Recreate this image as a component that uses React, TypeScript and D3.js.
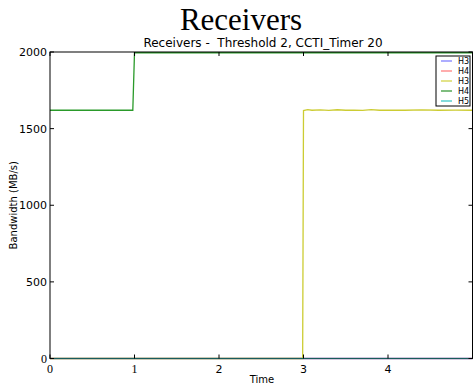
import React from "react";
import * as d3 from "d3";

const seriesNames = ["H3", "H4", "H3", "H4", "H5"];
const seriesColors = ["#7f7fff", "#ff7f7f", "#cccc33", "#2a9a2a", "#33cccc"];
const legendColors = ["#8080ff", "#ff8080", "#d4d44a", "#3a9a3a", "#40c8c8"];

const xTicks = [0, 1, 2, 3, 4, 5];
const yTicks = [0, 500, 1000, 1500, 2000];

const blueH3: [number, number][] = [[0, 0], [5, 0]];
const redH4: [number, number][] = [[0, 0], [5, 0]];
const yellowH3: [number, number][] = [
  [0, 0], [2.99, 0], [3.0, 1618], [3.05, 1624], [3.1, 1620], [3.2, 1622], [3.3, 1619],
  [3.4, 1623], [3.5, 1620], [3.6, 1621], [3.7, 1619], [3.8, 1624], [3.9, 1620],
  [4.0, 1621], [4.2, 1620], [4.4, 1622], [4.6, 1620], [4.8, 1621], [5, 1620],
];
const greenH4: [number, number][] = [[0, 1620], [0.98, 1620], [1.0, 1995], [5, 1995]];
const cyanH5: [number, number][] = [[0, 0], [5, 0]];

const allSeries = [blueH3, redH4, yellowH3, greenH4, cyanH5];

export default function App() {
  const W = 473, H = 387;
  const left = 50, right = 472.5, top = 52, bottom = 358.5;
  const x = d3.scaleLinear().domain([0, 5]).range([left, right]);
  const y = d3.scaleLinear().domain([0, 2000]).range([bottom, top]);
  const line = d3.line<[number, number]>().x(d => x(d[0])).y(d => y(d[1]));
  const sans = "DejaVu Sans";
  const serif = "Liberation Serif";
  return (
    <svg width={W} height={H} style={{ position: "absolute", left: 0, top: 0, background: "#fff" }}>
      <rect width={W} height={H} fill="#fff" />
      <text x={241} y={30} textAnchor="middle" fontFamily={serif} fontSize={31} fill="#000">Receivers</text>
      <text x={263} y={47} textAnchor="middle" fontFamily={sans} fontSize={12} fill="#000" xmlSpace="preserve" style={{ whiteSpace: "pre" }}>Receivers -  Threshold 2, CCTI_Timer 20</text>
      <g>
        {allSeries.slice(0, 4).map((s, i) => (
          <path key={i} d={line(s) || ""} fill="none" stroke={seriesColors[i]} strokeWidth={1.3} />
        ))}
      </g>
      <rect x={left} y={top} width={right - left} height={bottom - top} fill="none" stroke="#000" strokeWidth={1} />
      <path d={line(cyanH5) || ""} fill="none" stroke={seriesColors[4]} strokeOpacity={0.45} strokeWidth={1.6} />
      {xTicks.map(t => (
        <g key={"x" + t}>
          <line x1={x(t)} x2={x(t)} y1={bottom} y2={bottom - 4} stroke="#000" />
          <line x1={x(t)} x2={x(t)} y1={top} y2={top + 4} stroke="#000" />
          {t < 5 && (
            <text x={x(t)} y={373} textAnchor="middle" fontFamily={t <= 1 ? serif : sans} fontSize={t <= 1 ? 12 : 11} fill="#000">{t}</text>
          )}
        </g>
      ))}
      {yTicks.map(t => (
        <g key={"y" + t}>
          <line x1={left} x2={left + 4} y1={y(t)} y2={y(t)} stroke="#000" />
          <line x1={right} x2={right - 4} y1={y(t)} y2={y(t)} stroke="#000" />
          <text x={47} y={y(t) + 4} textAnchor="end" fontFamily={t === 0 ? serif : sans} fontSize={t === 0 ? 12 : 11} fill="#000">{t}</text>
        </g>
      ))}
      <text x={262} y={383} textAnchor="middle" fontFamily={sans} fontSize={10} fill="#000">Time</text>
      <text transform={`translate(17,${(top + bottom) / 2}) rotate(-90)`} textAnchor="middle" fontFamily={sans} fontSize={10} fill="#000">Bandwidth (MB/s)</text>
      <g>
        <rect x={436} y={56} width={34} height={50} fill="#fff" stroke="#000" strokeWidth={1} />
        {seriesNames.map((n, i) => (
          <g key={i}>
            <line x1={441} x2={452} y1={61 + i * 10} y2={61 + i * 10} stroke={legendColors[i]} strokeWidth={1.3} />
            <text x={458} y={64 + i * 10} fontFamily={sans} fontSize={8} fill="#000">{n}</text>
          </g>
        ))}
      </g>
    </svg>
  );
}
